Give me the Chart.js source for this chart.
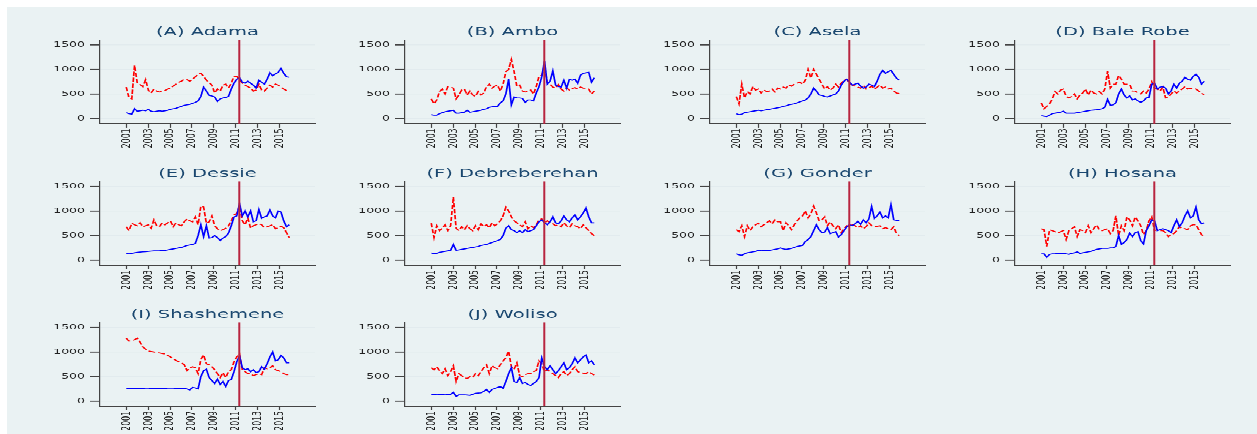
<!DOCTYPE html>
<html>
<head>
<meta charset="utf-8">
<script src="https://cdn.jsdelivr.net/npm/chart.js@4.4.1/dist/chart.umd.min.js"></script>
<style>
  html, body { margin: 0; padding: 0; background: #fff; }
  #bg { position: absolute; left: 7px; top: 7px; width: 1250px; height: 427px; background: #eaf2f3; }
  /* the reference is squashed vertically, so draw tall and scale down */
  #stage { position: absolute; left: 0; top: 0; width: 1257px; height: 724px; transform: scaleY(0.6); transform-origin: 0 0; }
  #stage canvas { position: absolute; }
</style>
</head>
<body>
<div id="bg"></div>
<div id="stage"></div>
<script>
const towns = ['(A) Adama', '(B) Ambo', '(C) Asela', '(D) Bale Robe', '(E) Dessie',
  '(F) Debreberehan', '(G) Gonder', '(H) Hosana', '(I) Shashemene', '(J) Woliso'];
const yearTicks = [2001, 2003, 2005, 2007, 2009, 2011, 2013, 2015];
const valueTicks = [0, 500, 1000, 1500];
const breakYear = 2011.33;

// quarterly observations, Jan 2001 .. late 2015
const quarters = [];
for (let i = 0; i < 60; i++) quarters.push(2001 + i * 0.2525);

const adamaBlue = [120,100,90,200, 150,160,170,160, 190,150,140,150, 160,150,160,170, 190,200,210,230,
  250,270,280,290, 310,330,360,450, 640,560,470,460, 440,350,400,420, 430,450,600,720,
  800,830,740,720, 760,720,680,620, 780,740,700,800, 930,870,910,940, 1020,920,850,840];
const adamaRed = [640,420,400,1080, 720,690,650,790, 580,520,600,560, 540,560,570,600, 620,660,700,740,
  760,800,790,760, 800,850,900,920, 860,780,730,680, 520,600,560,680, 700,620,720,860,
  860,790,720,680, 650,620,560,580, 700,580,560,620, 680,640,700,680, 640,600,570,550];
const amboBlue = [80,70,70,100, 120,140,150,160, 170,110,110,120, 130,170,130,140, 150,160,170,190,
  200,230,240,250, 250,320,360,500, 800,280,440,420, 420,410,330,380, 380,360,520,650,
  850,1170,700,760, 970,680,650,640, 780,620,800,780, 800,720,880,920, 930,940,740,830];
const amboRed = [400,300,380,550, 600,500,650,640, 620,400,480,580, 600,480,560,480, 450,550,480,520,
  650,700,620,660, 680,560,700,950, 1000,1200,950,650, 680,560,540,560, 580,500,650,860,
  880,1070,720,700, 640,620,690,600, 560,620,580,610, 630,600,640,620, 620,600,500,560];
const aselaBlue = [100,80,90,120, 130,140,150,160, 170,160,170,180, 190,200,210,220, 230,250,260,280,
  290,300,320,340, 360,380,420,500, 620,560,480,470, 450,440,460,480, 500,560,680,760,
  800,740,680,700, 720,660,620,640, 700,680,650,760, 900,980,920,950, 980,900,820,780];
const aselaRed = [450,300,700,420, 550,500,650,580, 600,520,580,550, 560,600,540,620, 600,640,620,680,
  660,700,720,740, 700,780,1000,820, 1000,900,800,700, 600,650,580,620, 700,640,720,780,
  800,720,680,660, 640,620,680,600, 620,660,600,640, 680,620,640,600, 620,560,520,510];
const baleBlue = [60,50,40,70, 100,110,120,130, 150,110,110,110, 110,120,130,140, 150,160,170,175,
  180,190,200,230, 390,270,280,320, 500,600,480,420, 460,380,400,360, 330,360,420,430,
  700,720,600,640, 650,620,500,560, 700,620,720,760, 840,800,780,860, 900,840,700,760];
const baleRed = [320,200,250,300, 400,550,500,580, 600,450,420,450, 500,400,480,520, 600,480,580,520,
  500,550,500,600, 960,620,700,700, 880,800,700,700, 700,560,560,520, 500,560,520,600,
  750,620,600,560, 640,420,440,500, 560,520,560,600, 650,600,620,610, 600,560,510,490];
const dessieBlue = [140,130,140,150, 160,165,170,175, 180,185,190,190, 190,200,200,210, 220,230,240,250,
  260,280,300,310, 320,340,500,720, 480,700,450,460, 500,460,400,450, 480,550,700,880,
  900,1150,900,1000, 880,1000,780,800, 1030,850,880,900, 1020,900,860,1000, 980,800,680,720];
const dessieRed = [680,600,750,720, 700,760,680,700, 720,650,820,700, 680,760,720,760, 800,680,760,720,
  700,780,840,800, 780,880,720,1100, 1080,750,780,900, 700,640,600,620, 650,700,800,920,
  950,1100,800,720, 860,650,700,720, 740,720,660,680, 700,720,640,660, 690,660,560,460];
const debreBlue = [150,130,140,160, 170,180,190,200, 320,200,210,220, 230,240,250,260, 270,280,300,310,
  320,340,360,380, 400,420,500,650, 700,620,600,560, 600,560,620,580, 600,620,700,780,
  820,760,720,780, 880,760,740,800, 900,820,780,860, 920,820,880,960, 1060,880,760,760];
const debreRed = [750,460,700,600, 650,720,600,700, 1280,650,600,680, 620,700,640,600, 700,620,740,680,
  720,660,760,700, 740,800,900,1080, 1000,880,800,760, 720,680,780,640, 700,660,720,820,
  840,760,800,760, 740,700,720,680, 760,700,660,740, 700,680,640,720, 660,600,540,500];
const gonderBlue = [130,110,100,130, 150,160,170,180, 200,190,200,200, 200,210,220,230, 250,230,220,230,
  240,260,280,290, 300,380,420,480, 600,720,620,560, 570,660,540,560, 580,470,520,600,
  680,720,700,740, 790,730,820,760, 840,1090,850,900, 980,860,900,860, 1130,820,810,800];
const gonderRed = [620,580,700,480, 700,600,680,720, 750,680,720,760, 800,740,820,780, 780,600,760,700,
  620,720,800,860, 900,1000,860,940, 1100,960,800,820, 880,700,780,700, 640,720,560,640,
  700,680,720,700, 660,700,640,680, 760,700,680,690, 700,640,660,640, 620,680,540,500];
const hosanaBlue = [130,130,60,120, 130,130,140,140, 140,130,120,140, 150,170,140,150, 160,170,180,200,
  220,230,240,240, 240,250,250,280, 500,320,360,420, 550,480,560,580, 400,330,600,700,
  820,800,600,620, 640,620,600,560, 700,820,680,760, 900,1000,860,900, 1080,820,740,760];
const hosanaRed = [640,620,280,620, 600,580,550,580, 600,420,600,640, 680,480,620,600, 560,700,560,640,
  720,620,600,620, 640,540,600,900, 500,700,600,880, 820,700,880,800, 700,520,600,800,
  880,600,620,600, 600,560,480,520, 540,600,680,640, 640,620,700,720, 720,620,520,480];
const shashBlue = [260,260,260,260, 260,260,260,265, 265,260,260,260, 265,260,260,265, 265,265,260,260,
  260,260,250,230, 280,270,250,500, 620,650,480,420, 360,450,340,400, 300,420,440,600,
  800,920,680,640, 660,600,640,580, 600,700,650,760, 900,1000,820,840, 930,880,780,780];
const shashRed = [1280,1220,1230,1250, 1280,1200,1100,1060, 1020,1010,1000,990, 980,970,960,930, 900,860,830,800,
  780,740,620,680, 700,680,560,850, 940,760,740,700, 640,560,480,580, 480,600,640,800,
  900,960,640,600, 560,560,520,540, 560,540,680,660, 680,720,640,620, 600,560,540,540];
const wolisoBlue = [140,140,130,135, 135,130,135,140, 180,100,130,130, 130,125,120,140, 160,165,170,200,
  240,180,240,260, 280,300,260,400, 560,680,400,380, 480,360,380,340, 320,360,400,480,
  880,700,640,720, 640,560,620,700, 780,640,680,760, 880,780,840,900, 940,780,820,740];
const wolisoRed = [680,640,700,620, 560,660,520,600, 720,400,560,520, 480,460,500,480, 560,520,600,680,
  740,560,720,680, 660,740,820,880, 1020,700,650,780, 520,500,540,560, 560,600,620,820,
  760,600,640,600, 560,520,480,560, 600,520,560,640, 700,600,580,570, 560,600,560,530];

const blueSeries = [adamaBlue, amboBlue, aselaBlue, baleBlue, dessieBlue,
  debreBlue, gonderBlue, hosanaBlue, shashBlue, wolisoBlue];
const redSeries = [adamaRed, amboRed, aselaRed, baleRed, dessieRed,
  debreRed, gonderRed, hosanaRed, shashRed, wolisoRed];

Chart.defaults.font.family = '"DejaVu Sans", sans-serif';
Chart.defaults.color = '#222';

// vertical marker line
const breakLine = {
  id: 'breakLine',
  afterDatasetsDraw(chart) {
    const { ctx, chartArea, scales } = chart;
    const x = scales.x.getPixelForValue(breakYear);
    ctx.save();
    ctx.strokeStyle = '#b8253f';
    ctx.lineWidth = 2;
    ctx.beginPath();
    ctx.moveTo(x, chartArea.top);
    ctx.lineTo(x, chartArea.bottom);
    ctx.stroke();
    ctx.restore();
  }
};

const stage = document.getElementById('stage');
const plotTops = [66.7, 302.0, 537.3];

towns.forEach((name, i) => {
  const col = i % 4, row = Math.floor(i / 4);
  const canvas = document.createElement('canvas');
  canvas.width = 290;
  canvas.height = 228;
  canvas.style.left = (40 + 305 * col) + 'px';
  canvas.style.top = (plotTops[row] - 28.4) + 'px';
  stage.appendChild(canvas);

  new Chart(canvas, {
    type: 'line',
    data: {
      datasets: [{
        data: quarters.map((x, k) => ({ x: x, y: blueSeries[i][k] })),
        borderColor: '#0000ff',
        borderWidth: 1.7,
        pointRadius: 0,
        fill: false
      }, {
        data: quarters.map((x, k) => ({ x: x, y: redSeries[i][k] })),
        borderColor: '#ff0000',
        borderWidth: 1.7,
        borderDash: [7, 3],
        pointRadius: 0,
        fill: false
      }]
    },
    options: {
      responsive: false,
      animation: false,
      layout: { padding: { top: 4, right: 15, bottom: 0, left: 0 } },
      plugins: {
        legend: { display: false },
        tooltip: { enabled: false },
        title: {
          display: true,
          text: name,
          fullSize: false,
          color: '#1a476f',
          font: { size: 19.5, weight: 'normal' },
          padding: { top: 0, bottom: 1 }
        }
      },
      scales: {
        x: {
          type: 'linear',
          min: 1998.6,
          max: 2018.25,
          afterBuildTicks: s => { s.ticks = yearTicks.map(v => ({ value: v })); },
          afterFit: s => { s.height = 60.1; },
          ticks: { autoSkip: false, minRotation: 90, maxRotation: 90, padding: 1,
            font: { size: 13 }, callback: v => String(v) },
          grid: { drawOnChartArea: false, tickLength: 7, tickColor: '#444', tickWidth: 1.2 },
          border: { color: '#444', width: 2 }
        },
        y: {
          min: -100,
          max: 1600,
          afterBuildTicks: s => { s.ticks = valueTicks.map(v => ({ value: v })); },
          afterFit: s => { s.width = 60; },
          ticks: { padding: 5, font: { size: 12.5 }, callback: v => String(v) },
          grid: { color: '#e2ebee', lineWidth: 1.6, tickColor: '#444', tickLength: 10, tickWidth: 1.8 },
          border: { color: '#444', width: 1.2 }
        }
      }
    },
    plugins: [breakLine]
  });
});
</script>
</body>
</html>
